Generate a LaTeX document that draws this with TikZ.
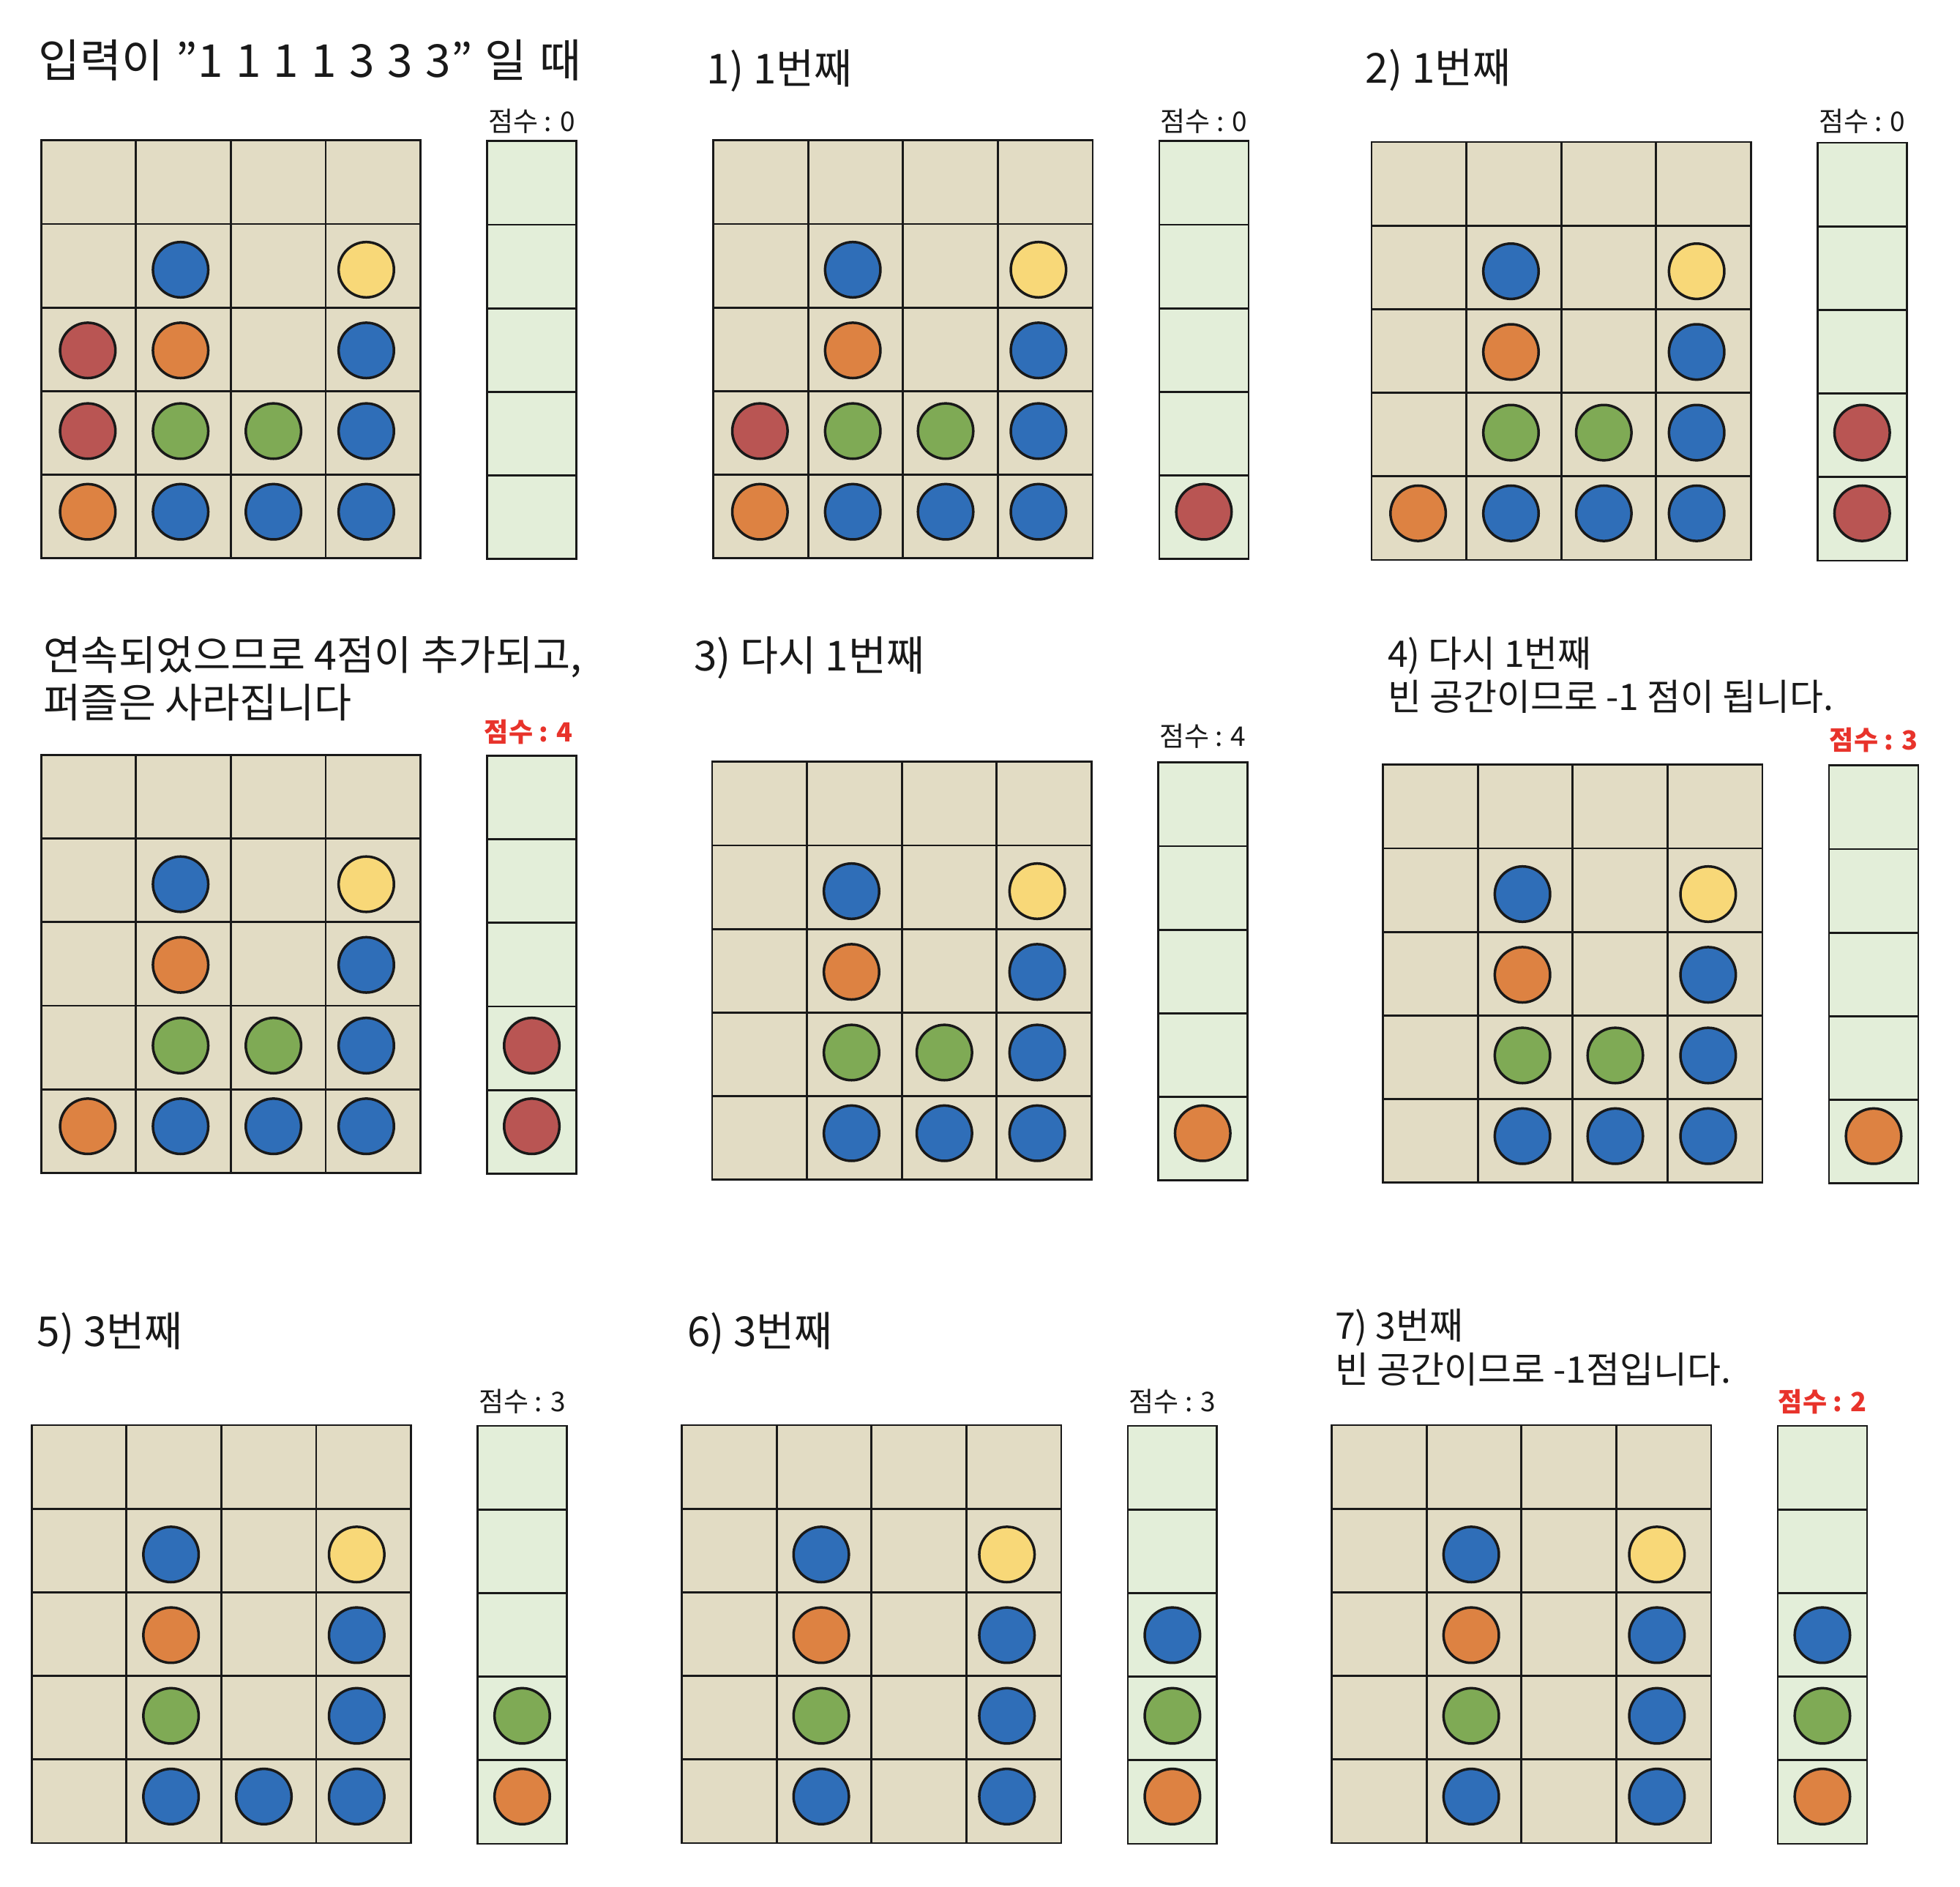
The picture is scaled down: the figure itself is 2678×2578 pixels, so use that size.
\documentclass[tikz,border=0pt]{standalone}
\usepackage{fontspec}
\setmainfont{Noto Sans CJK KR}
\definecolor{beige}{RGB}{226,220,196}
\definecolor{mint}{RGB}{227,238,217}
\definecolor{cb}{RGB}{47,110,184}
\definecolor{cy}{RGB}{248,216,120}
\definecolor{cr}{RGB}{185,85,83}
\definecolor{co}{RGB}{221,130,66}
\definecolor{cg}{RGB}{127,170,85}
\definecolor{redtxt}{RGB}{232,51,43}
\definecolor{inkc}{RGB}{25,25,25}
\newcommand\pzfs[1]{\fontsize{#1}{#1}\selectfont}
\newcommand\pzboard[3]{%
  \begin{scope}[shift={(#2,#3)}]
    \foreach \c in {0,...,3}{\foreach \r in {0,...,4}{%
      \draw[cellbox] (\c*129.6,\r*114.2) rectangle ++(129.6,114.2);}}
    \foreach \r in {0,...,4}{%
      \draw[scorecell] (609.4,1+\r*114.2) rectangle ++(121.9,114.2);}
    \coordinate (#1) at (0,0);
  \end{scope}}
\newcommand\pzballs[3]{%
  \foreach \c/\r/\k in {#3}{%
    \draw[ball,fill=\k] ({#1+63.7+126.85*(\c-1)},{#2+66.46+110.23*(\r-1)}) circle[radius=37.8pt];}}
\newcommand\pzscore[3]{%
  \foreach \r/\k in {#3}{%
    \draw[ball,fill=\k] ({#1+670.35},{#2+66.46+110.23*(\r-1)}) circle[radius=37.8pt];}}
\begin{document}
\begin{tikzpicture}[x=1pt,y=-1pt,
  cellbox/.style={draw=inkc,line width=2.8pt,fill=beige},
  scorecell/.style={draw=inkc,line width=2.8pt,fill=mint},
  ball/.style={draw=inkc,line width=3.5pt},
  txt/.style={anchor=base west,inner sep=0pt,text=inkc},
  lbl/.style={anchor=base,inner sep=0pt,text=inkc,font=\pzfs{37}},
  lblred/.style={anchor=base,inner sep=0pt,text=redtxt,font=\pzfs{36}\bfseries}]
\fill[white] (0,0) rectangle (2678,2578);
\useasboundingbox (0,0) rectangle (2678,2578);

% ---------- Row 1 ----------
\pzboard{pA}{56.2}{191.8}
\pzballs{56.2}{191.8}{2/2/cb,4/2/cy,1/3/cr,2/3/co,4/3/cb,1/4/cr,2/4/cg,3/4/cg,4/4/cb,1/5/co,2/5/cb,3/5/cb,4/5/cb}
\node[txt,font={\pzfs{62}\spaceskip=17.5pt\relax}] (tA) at (52,105.5) {입력이 ”1 1 1 1 3 3 3” 일 때};
\node[lbl] (sA) at (56.2+670.35,179.6) {점수 : 0};

\pzboard{p1}{974.6}{191.8}
\pzballs{974.6}{191.8}{2/2/cb,4/2/cy,2/3/co,4/3/cb,1/4/cr,2/4/cg,3/4/cg,4/4/cb,1/5/co,2/5/cb,3/5/cb,4/5/cb}
\pzscore{974.6}{191.8}{5/cr}
\node[txt,font=\pzfs{56.5}] (t1) at (965.7,114.4) {1) 1번째};
\node[lbl] (s1) at (974.6+670.35,179.6) {점수 : 0};

\pzboard{p2}{1873.9}{193.9}
\pzballs{1873.9}{193.9}{2/2/cb,4/2/cy,2/3/co,4/3/cb,2/4/cg,3/4/cg,4/4/cb,1/5/co,2/5/cb,3/5/cb,4/5/cb}
\pzscore{1873.9}{193.9}{4/cr,5/cr}
\node[txt,font=\pzfs{56.5}] (t2) at (1865.7,113.4) {2) 1번째};
\node[lbl] (s2) at (1873.9+670.35,179.6) {점수 : 0};

% ---------- Row 2 ----------
\pzboard{pB}{56.2}{1031.3}
\pzballs{56.2}{1031.3}{2/2/cb,4/2/cy,2/3/co,4/3/cb,2/4/cg,3/4/cg,4/4/cb,1/5/co,2/5/cb,3/5/cb,4/5/cb}
\pzscore{56.2}{1031.3}{4/cr,5/cr}
\node[txt,font=\pzfs{55.5}] (tB1) at (59.7,915.2) {연속되었으므로 4점이 추가되고,};
\node[txt,font=\pzfs{55.5}] (tB2) at (59.7,980.7) {퍼즐은 사라집니다};
\node[lblred] (sB) at (722,1013.5) {점수 : 4};

\pzboard{p3}{972.9}{1040.8}
\pzballs{972.9}{1040.8}{2/2/cb,4/2/cy,2/3/co,4/3/cb,2/4/cg,3/4/cg,4/4/cb,2/5/cb,3/5/cb,4/5/cb}
\pzscore{972.9}{1040.8}{5/co}
\node[txt,font=\pzfs{56.5}] (t3) at (947.8,916.8) {3) 다시 1번째};
\node[lbl] (s3) at (972.9+670.35,1019.8) {점수 : 4};

\pzboard{p4}{1889.6}{1044.8}
\pzballs{1889.6}{1044.8}{2/2/cb,4/2/cy,2/3/co,4/3/cb,2/4/cg,3/4/cg,4/4/cb,2/5/cb,3/5/cb,4/5/cb}
\pzscore{1889.6}{1044.8}{5/co}
\node[txt,font=\pzfs{50}] (t4a) at (1895.8,911.5) {4) 다시 1번째};
\node[txt,font=\pzfs{50}] (t4b) at (1895.8,970.2) {빈 공간이므로 -1 점이 됩니다.};
\node[lblred] (s4) at (1889.6+670.35,1024) {점수 : 3};

% ---------- Row 3 ----------
\pzboard{p5}{43.1}{1947}
\pzballs{43.1}{1947}{2/2/cb,4/2/cy,2/3/co,4/3/cb,2/4/cg,4/4/cb,2/5/cb,3/5/cb,4/5/cb}
\pzscore{43.1}{1947}{4/cg,5/co}
\node[txt,font=\pzfs{56.5}] (t5) at (50.7,1839.5) {5) 3번째};
\node[lbl] (s5) at (43.1+670.35,1928) {점수 : 3};

\pzboard{p6}{931.5}{1947}
\pzballs{931.5}{1947}{2/2/cb,4/2/cy,2/3/co,4/3/cb,2/4/cg,4/4/cb,2/5/cb,4/5/cb}
\pzscore{931.5}{1947}{3/cb,4/cg,5/co}
\node[txt,font=\pzfs{56.5}] (t6) at (938.8,1839.5) {6) 3번째};
\node[lbl] (s6) at (931.5+670.35,1928) {점수 : 3};

\pzboard{p7}{1819.6}{1947}
\pzballs{1819.6}{1947}{2/2/cb,4/2/cy,2/3/co,4/3/cb,2/4/cg,4/4/cb,2/5/cb,4/5/cb}
\pzscore{1819.6}{1947}{3/cb,4/cg,5/co}
\node[txt,font=\pzfs{50}] (t7a) at (1823.9,1829.2) {7) 3번째};
\node[txt,font=\pzfs{50}] (t7b) at (1823.9,1889.9) {빈 공간이므로 -1점입니다.};
\node[lblred] (s7) at (1819.6+670.35,1928) {점수 : 2};
\end{tikzpicture}
\end{document}
